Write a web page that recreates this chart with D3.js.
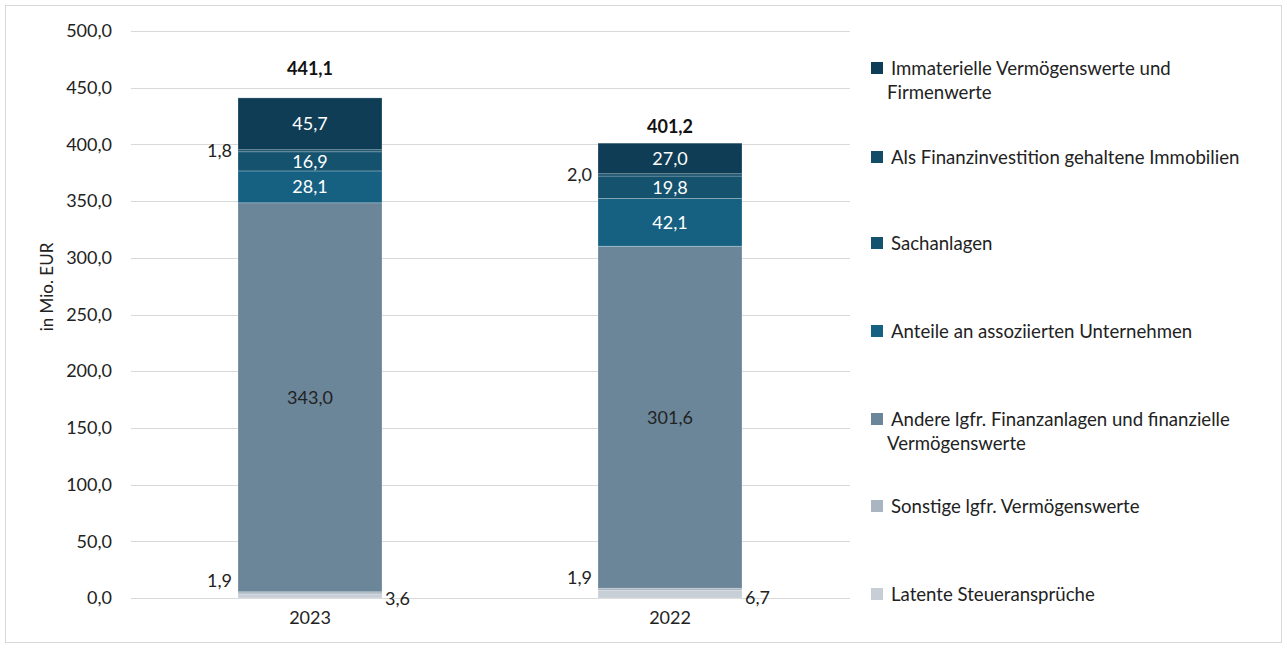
<!DOCTYPE html>
<html>
<head>
<meta charset="utf-8">
<script src="https://cdn.jsdelivr.net/npm/d3@7"></script>
<style>
  body { margin: 0; background: #fff; }
  svg { font-family: Lato, "Open Sans", sans-serif; }
</style>
</head>
<body>
<script>
const width = 1287;
const height = 648;

// data
const years = ['2023', '2022'];
const seriesNames = [
  'Latente Steueransprüche',
  'Sonstige lgfr. Vermögenswerte',
  'Andere lgfr. Finanzanlagen und finanzielle Vermögenswerte',
  'Anteile an assoziierten Unternehmen',
  'Sachanlagen',
  'Als Finanzinvestition gehaltene Immobilien',
  'Immaterielle Vermögenswerte und Firmenwerte'
];
const values2023 = [3.6, 1.9, 343.0, 28.1, 16.9, 1.8, 45.7];
const values2022 = [6.7, 1.9, 301.6, 42.1, 19.8, 2.0, 27.0];
const totals = [441.1, 401.2];
const yTicks = [0, 50, 100, 150, 200, 250, 300, 350, 400, 450, 500];
const colors = ['#c7ced6', '#a9b6c2', '#6b8599', '#166182', '#14526e', '#124c66', '#0e3d55'];

// legend lines (top to bottom)
const legendLines = [
  ['Immaterielle Vermögenswerte und', 'Firmenwerte'],
  ['Als Finanzinvestition gehaltene Immobilien'],
  ['Sachanlagen'],
  ['Anteile an assoziierten Unternehmen'],
  ['Andere lgfr. Finanzanlagen und finanzielle', 'Vermögenswerte'],
  ['Sonstige lgfr. Vermögenswerte'],
  ['Latente Steueransprüche']
];

const fmt = v => v.toFixed(1).replace('.', ',');
const fs = 18;

const svg = d3.select('body').append('svg')
  .attr('width', width)
  .attr('height', height);

// outer frame
svg.append('rect')
  .attr('x', 5.5).attr('y', 5.5)
  .attr('width', width - 11).attr('height', height - 11)
  .attr('fill', '#fff').attr('stroke', '#d9d9d9');

const x = d3.scaleBand().domain(years).range([130, 850]).paddingInner(0.6).paddingOuter(0.3);
const y = d3.scaleLinear().domain([0, 500]).range([598, 31]);

// grid
svg.append('g').selectAll('line')
  .data(yTicks)
  .enter().append('line')
  .attr('x1', 131).attr('x2', 850)
  .attr('y1', d => Math.round(y(d)) + 0.5)
  .attr('y2', d => Math.round(y(d)) + 0.5)
  .attr('stroke', '#d9d9d9').attr('stroke-width', 1.2);

// y axis labels
const yAxis = svg.append('g')
  .attr('transform', 'translate(112,0)')
  .call(d3.axisLeft(y).tickValues(yTicks).tickSize(0).tickPadding(0).tickFormat(fmt));
yAxis.select('.domain').remove();
yAxis.selectAll('text')
  .attr('font-family', 'Lato, sans-serif')
  .attr('font-size', fs).attr('fill', '#222');

// x axis labels
const xAxis = svg.append('g')
  .attr('transform', 'translate(0,' + 611 + ')')
  .call(d3.axisBottom(x).tickSize(0).tickPadding(0));
xAxis.select('.domain').remove();
xAxis.selectAll('text')
  .attr('font-family', 'Lato, sans-serif')
  .attr('font-size', fs).attr('fill', '#222');

// axis title
svg.append('text')
  .attr('transform', 'translate(47,287) rotate(-90)')
  .attr('text-anchor', 'middle')
  .attr('dy', '0.35em')
  .attr('font-size', 17).attr('fill', '#222')
  .text('in Mio. EUR');

// stacked bars
const table = years.map((yr, i) => {
  const row = { year: yr };
  const vals = i === 0 ? values2023 : values2022;
  seriesNames.forEach((s, j) => row[s] = vals[j]);
  return row;
});
const stack = d3.stack().keys(seriesNames)(table);

const layers = svg.append('g').selectAll('g')
  .data(stack)
  .enter().append('g')
  .attr('fill', (d, i) => colors[i]);

layers.selectAll('rect')
  .data(d => d.map(p => ({ p: p, key: d.key })))
  .enter().append('rect')
  .attr('x', d => x(d.p.data.year))
  .attr('width', x.bandwidth())
  .attr('y', d => y(d.p[1]))
  .attr('height', d => y(d.p[0]) - y(d.p[1]))
  .attr('stroke', 'rgba(255,255,255,0.3)')
  .attr('stroke-width', 0.8);

// segment labels
const insideIdx = [2, 3, 4, 6];
stack.forEach((layer, i) => {
  layer.forEach(p => {
    const yr = p.data.year;
    const v = p[1] - p[0];
    const cy = y((p[0] + p[1]) / 2);
    const bx = x(yr);
    const t = svg.append('text')
      .attr('dy', '0.35em')
      .attr('font-size', fs)
      .attr('fill', '#222')
      .text(fmt(v));
    if (insideIdx.includes(i)) {
      t.attr('x', bx + x.bandwidth() / 2).attr('y', cy)
        .attr('text-anchor', 'middle')
        .attr('fill', i === 2 ? '#222' : '#fff');
    } else if (i === 5) {
      t.attr('x', bx - 6).attr('y', cy).attr('text-anchor', 'end');
    } else if (i === 1) {
      t.attr('x', bx - 6).attr('y', cy - 12).attr('text-anchor', 'end');
    } else {
      t.attr('x', bx + x.bandwidth() + 3).attr('y', cy + 3).attr('text-anchor', 'start');
    }
  });
});

// totals
const totalOffset = [-29, -16];
svg.append('g').selectAll('text')
  .data(years)
  .enter().append('text')
  .attr('x', d => x(d) + x.bandwidth() / 2)
  .attr('y', (d, i) => y(totals[i]) + totalOffset[i])
  .attr('dy', '0.35em')
  .attr('text-anchor', 'middle')
  .attr('font-size', fs).attr('font-weight', 'bold').attr('fill', '#111')
  .text((d, i) => fmt(totals[i]));

// legend
const legendY = [68, 157, 243, 331, 419, 506, 594];
const legend = svg.append('g');
legendLines.forEach((lines, i) => {
  const col = colors[seriesNames.length - 1 - i];
  legend.append('rect')
    .attr('x', 871).attr('y', legendY[i] - 6)
    .attr('width', 12).attr('height', 12)
    .attr('fill', col);
  lines.forEach((t, k) => {
    legend.append('text')
      .attr('x', k === 0 ? 891 : 887)
      .attr('y', legendY[i] + k * 24)
      .attr('dy', '0.35em')
      .attr('font-size', 18.6).attr('fill', '#222')
      .text(t);
  });
});
</script>
</body>
</html>
